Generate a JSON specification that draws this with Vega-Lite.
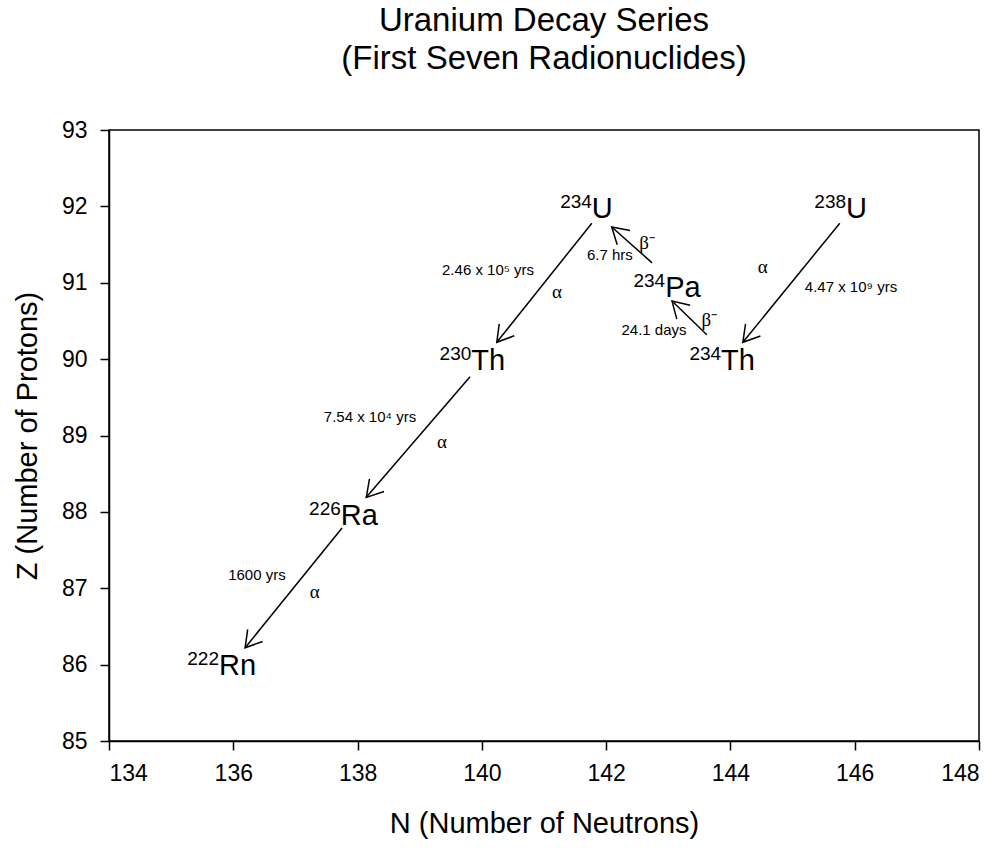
{
  "$schema": "https://vega.github.io/schema/vega-lite/v6.json",
  "width": 870,
  "height": 611,
  "autosize": "none",
  "padding": {"left": 109, "top": 130, "right": 27, "bottom": 107},
  "background": "white",
  "config": {
    "font": "Liberation Sans",
    "view": {"stroke": "black", "strokeWidth": 1.5},
    "axis": {
      "domainColor": "black", "domainWidth": 1.5, "tickColor": "black", "tickWidth": 1.5, "tickSize": 9,
      "labelFontSize": 23, "labelColor": "black", "labelFont": "Liberation Sans",
      "titleFontSize": 29, "titleFontWeight": "normal", "titleColor": "black", "titleFont": "Liberation Sans",
      "grid": false
    }
  },
  "title": {
    "text": ["Uranium Decay Series", "(First Seven Radionuclides)"],
    "fontSize": 33, "fontWeight": "normal", "font": "Liberation Sans", "color": "black",
    "anchor": "middle", "offset": 10, "lineHeight": 38, "baseline": "bottom"
  },
  "datasets": {
    "arrows": [
      {"from": "238U", "to": "234Th", "x1": 145.76, "y1": 91.78, "x2": 144.2, "y2": 90.22, "ang": 129.2},
      {"from": "234Th", "to": "234Pa", "x1": 143.62, "y1": 90.32, "x2": 143.06, "y2": 90.76, "ang": 224.2},
      {"from": "234Pa", "to": "234U", "x1": 142.74, "y1": 91.26, "x2": 142.09, "y2": 91.73, "ang": 222},
      {"from": "234U", "to": "230Th", "x1": 141.77, "y1": 91.78, "x2": 140.24, "y2": 90.22, "ang": 128.6},
      {"from": "230Th", "to": "226Ra", "x1": 139.81, "y1": 89.77, "x2": 138.14, "y2": 88.19, "ang": 130.9},
      {"from": "226Ra", "to": "222Rn", "x1": 137.75, "y1": 87.79, "x2": 136.19, "y2": 86.22, "ang": 129}
    ],
    "nuclides": [
      {"mass": "238", "sym": "U", "lx": 145.86, "ly": 91.85},
      {"mass": "234", "sym": "U", "lx": 141.77, "ly": 91.85},
      {"mass": "234", "sym": "Pa", "lx": 142.95, "ly": 90.81},
      {"mass": "234", "sym": "Th", "lx": 143.85, "ly": 89.86},
      {"mass": "230", "sym": "Th", "lx": 139.83, "ly": 89.86},
      {"mass": "226", "sym": "Ra", "lx": 137.73, "ly": 87.83},
      {"mass": "222", "sym": "Rn", "lx": 135.77, "ly": 85.86}
    ],
    "notes": [
      {"kind": "time", "label": "2.46 x 10⁵ yrs", "nx": 140.1, "ny": 91.17},
      {"kind": "decay", "label": "α", "nx": 141.21, "ny": 90.88},
      {"kind": "time", "label": "6.7 hrs", "nx": 142.06, "ny": 91.36},
      {"kind": "decay", "label": "β⁻", "nx": 142.66, "ny": 91.52},
      {"kind": "time", "label": "24.1 days", "nx": 142.77, "ny": 90.38},
      {"kind": "decay", "label": "β⁻", "nx": 143.66, "ny": 90.51},
      {"kind": "decay", "label": "α", "nx": 144.52, "ny": 91.21},
      {"kind": "time", "label": "4.47 x 10⁹ yrs", "nx": 145.94, "ny": 90.94},
      {"kind": "time", "label": "7.54 x 10⁴ yrs", "nx": 138.2, "ny": 89.24},
      {"kind": "decay", "label": "α", "nx": 139.36, "ny": 88.91},
      {"kind": "time", "label": "1600 yrs", "nx": 136.38, "ny": 87.17},
      {"kind": "decay", "label": "α", "nx": 137.31, "ny": 86.95}
    ]
  },
  "layer": [
    {
      "data": {"name": "arrows"},
      "mark": {"type": "rule", "color": "black", "strokeWidth": 1.5},
      "encoding": {
        "x": {"field": "x1", "type": "quantitative",
              "scale": {"domain": [134, 148], "nice": false, "zero": false},
              "axis": {"values": [134, 136, 138, 140, 142, 144, 146, 148], "format": "d", "title": "N (Number of Neutrons)", "labelPadding": 12, "titlePadding": 24}},
        "y": {"field": "y1", "type": "quantitative",
              "scale": {"domain": [85, 93], "nice": false, "zero": false},
              "axis": {"values": [85, 86, 87, 88, 89, 90, 91, 92, 93], "format": "d", "title": "Z (Number of Protons)", "labelPadding": 13, "titlePadding": 19}},
        "x2": {"field": "x2"},
        "y2": {"field": "y2"}
      }
    },
    {
      "data": {"name": "arrows"},
      "mark": {"type": "point", "shape": "M-1,-0.6L0,0L-1,0.6", "filled": false, "stroke": "black", "strokeWidth": 1.5, "size": 1024, "opacity": 1},
      "encoding": {
        "x": {"field": "x2", "type": "quantitative"},
        "y": {"field": "y2", "type": "quantitative"},
        "angle": {"field": "ang", "type": "quantitative", "scale": null}
      }
    },
    {
      "data": {"name": "nuclides"},
      "mark": {"type": "text", "align": "right", "baseline": "alphabetic", "dy": -10, "fontSize": 19, "color": "black", "font": "Liberation Sans"},
      "encoding": {
        "x": {"field": "lx", "type": "quantitative"},
        "y": {"field": "ly", "type": "quantitative"},
        "text": {"field": "mass"}
      }
    },
    {
      "data": {"name": "nuclides"},
      "mark": {"type": "text", "align": "left", "baseline": "alphabetic", "fontSize": 29, "color": "black", "font": "Liberation Sans"},
      "encoding": {
        "x": {"field": "lx", "type": "quantitative"},
        "y": {"field": "ly", "type": "quantitative"},
        "text": {"field": "sym"}
      }
    },
    {
      "data": {"name": "notes"},
      "transform": [{"filter": "datum.kind === 'time'"}],
      "mark": {"type": "text", "align": "center", "baseline": "middle", "fontSize": 15, "color": "black", "font": "Liberation Sans"},
      "encoding": {
        "x": {"field": "nx", "type": "quantitative"},
        "y": {"field": "ny", "type": "quantitative"},
        "text": {"field": "label"}
      }
    },
    {
      "data": {"name": "notes"},
      "transform": [{"filter": "datum.kind === 'decay'"}],
      "mark": {"type": "text", "align": "center", "baseline": "middle", "fontSize": 19, "color": "black", "font": "Liberation Serif"},
      "encoding": {
        "x": {"field": "nx", "type": "quantitative"},
        "y": {"field": "ny", "type": "quantitative"},
        "text": {"field": "label"}
      }
    }
  ]
}
